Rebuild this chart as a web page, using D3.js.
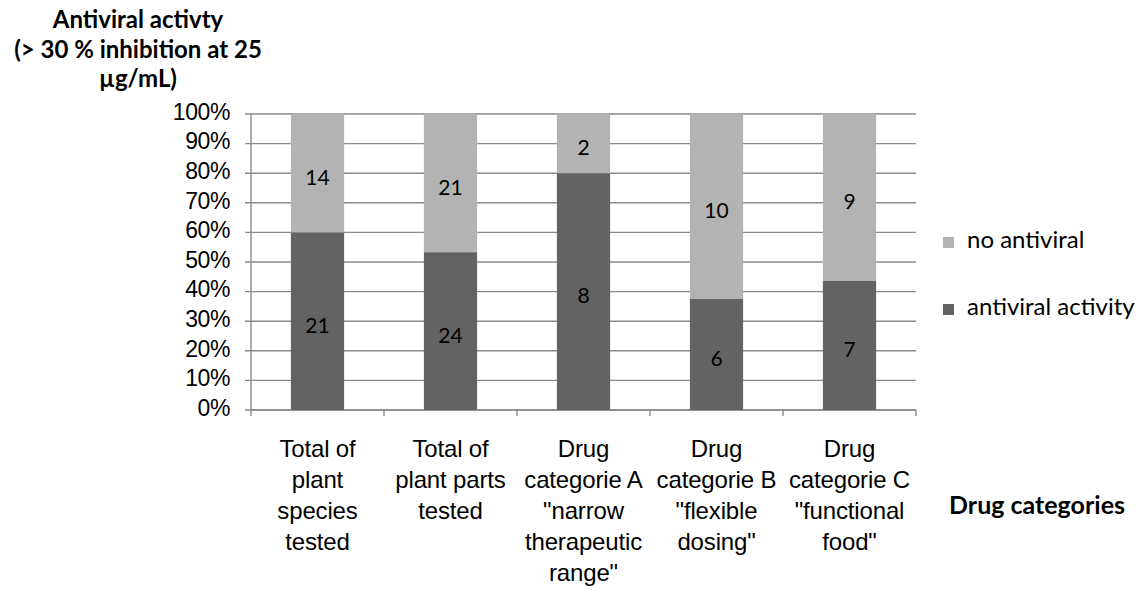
<!DOCTYPE html>
<html><head><meta charset="utf-8">
<script src="https://cdn.jsdelivr.net/npm/d3@7"></script>
<style>body{margin:0;background:#fff}svg{display:block}</style>
</head><body>
<svg id="c" width="1143" height="591"></svg>
<script>
const categories = [
  ["Total of","plant","species","tested"],
  ["Total of","plant parts","tested"],
  ["Drug","categorie A","\"narrow","therapeutic","range\""],
  ["Drug","categorie B","\"flexible","dosing\""],
  ["Drug","categorie C","\"functional","food\""]
];
const antiviral = [21, 24, 8, 6, 7];
const noAntiviral = [14, 21, 2, 10, 9];
const seriesNames = ["antiviral activity", "no antiviral"];
const legendItems = ["no antiviral", "antiviral activity"];
const yTicks = [0,0.1,0.2,0.3,0.4,0.5,0.6,0.7,0.8,0.9,1];
const yTitle = ["Antiviral activty", "(> 30 % inhibition at 25", "µg/mL)"];
const xTitle = "Drug categories";

const colors = {"antiviral activity":"#636363","no antiviral":"#b3b3b3"};
const grid = "#8a8a8a";
const svg = d3.select("#c");
const L = 251, R = 916, T = 114, B = 410;
const arial = "Liberation Sans, Arial, sans-serif";
const cal = "Lato, Carlito, Calibri, sans-serif";

const x = d3.scaleBand().domain(d3.range(categories.length)).range([L,R]).paddingInner(0.6).paddingOuter(0.3);
const y = d3.scaleLinear().domain([0,1]).range([B,T]);

// gridlines
svg.append("g").selectAll("line").data(yTicks).join("line")
  .attr("x1",L-6).attr("x2",R).attr("y1",d=>y(d)).attr("y2",d=>y(d))
  .attr("stroke",grid).attr("stroke-width",1.4);

svg.append("line").attr("x1",L).attr("x2",L).attr("y1",T).attr("y2",B).attr("stroke",grid).attr("stroke-width",1.4);
svg.append("line").attr("x1",L).attr("x2",R).attr("y1",B).attr("y2",B).attr("stroke",grid).attr("stroke-width",1.4);
const bounds = d3.range(categories.length+1).map(i=> L + i*x.step());
svg.append("g").selectAll("line").data(bounds).join("line")
  .attr("x1",d=>d).attr("x2",d=>d).attr("y1",B).attr("y2",B+6).attr("stroke",grid).attr("stroke-width",1.4);

// y tick labels
svg.append("g").selectAll("text").data(yTicks).join("text")
  .attr("x",230).attr("y",d=>y(d)-2.5).attr("dy","0.36em").attr("text-anchor","end")
  .attr("font-family",arial).attr("font-size",23).attr("letter-spacing",-0.4).attr("fill","#000")
  .text(d=>d3.format(".0%")(d));

// stacked bars
const data = categories.map((c,i)=>({i, "antiviral activity":antiviral[i], "no antiviral":noAntiviral[i]}));
const stack = d3.stack().keys(seriesNames).offset(d3.stackOffsetExpand)(data);
const gBars = svg.append("g");
stack.forEach(s=>{
  gBars.append("g").selectAll("rect").data(s).join("rect")
    .attr("x",d=>x(d.data.i)).attr("width",x.bandwidth())
    .attr("y",d=>y(d[1])).attr("height",d=>y(d[0])-y(d[1]))
    .attr("fill",colors[s.key]);
});
stack.forEach(s=>{
  gBars.append("g").selectAll("text").data(s).join("text")
    .attr("x",d=>x(d.data.i)+x.bandwidth()/2).attr("y",d=>y((d[0]+d[1])/2)+4)
    .attr("dy","0.36em").attr("text-anchor","middle")
    .attr("font-family",cal).attr("font-size",21).attr("fill","#000")
    .text(d=>d.data[s.key]);
});

// category labels
const gc = svg.append("g");
categories.forEach((lines,i)=>{
  const cx = x(i)+x.bandwidth()/2;
  const t = gc.append("text").attr("text-anchor","middle").attr("font-family",arial)
    .attr("font-size",24).attr("letter-spacing",-0.15).attr("fill","#000");
  lines.forEach((ln,j)=>t.append("tspan").attr("x",cx).attr("y",457+j*31).text(ln));
});

// y title
const yt = svg.append("text").attr("text-anchor","middle").attr("font-family",cal)
  .attr("font-weight","bold").attr("font-size",24).attr("fill","#000");
yTitle.forEach((ln,j)=>yt.append("tspan").attr("x",138).attr("y",28+j*29.5).text(ln));

// x title
svg.append("text").attr("x",1037).attr("y",514).attr("text-anchor","middle")
  .attr("font-family",cal).attr("font-weight","bold").attr("font-size",25).attr("fill","#000")
  .text(xTitle);

// legend
const lg = svg.append("g").selectAll("g").data(legendItems).join("g")
  .attr("transform",(d,i)=>`translate(943,${248+i*67})`);
lg.append("rect").attr("x",0).attr("y",-11).attr("width",11).attr("height",11).attr("fill",d=>colors[d]);
lg.append("text").attr("x",24).attr("y",0).attr("font-family",cal)
  .attr("font-size",24).attr("fill","#000").text(d=>d);
</script>
</body></html>
